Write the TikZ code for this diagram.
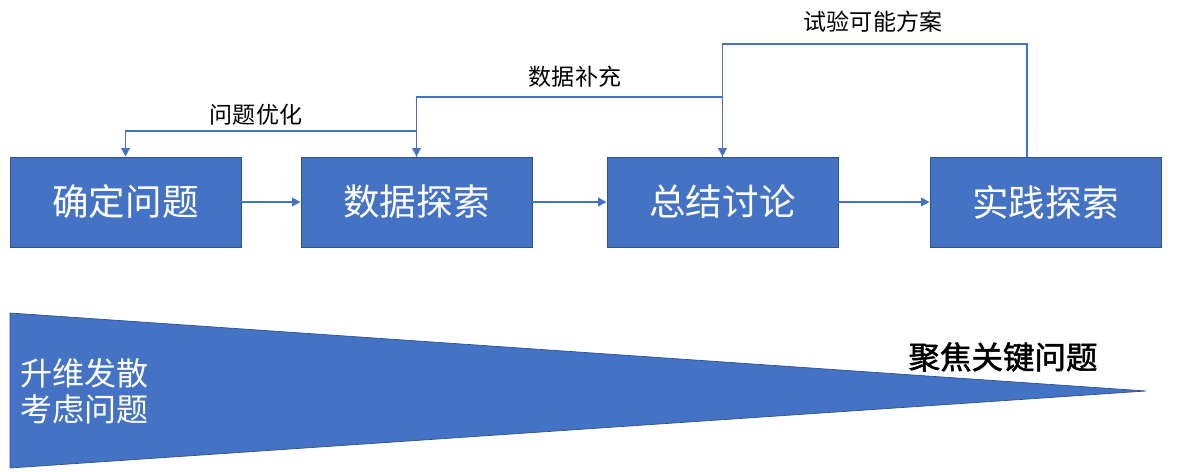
\documentclass[tikz,border=0pt]{standalone}
\usepackage{fontspec}
\setmainfont{Noto Sans CJK SC}
\newfontfamily\focusfont{Noto Sans CJK SC}[FakeBold=1.6]
\usepackage{xcolor}
\usepackage{tikz}
\usetikzlibrary{arrows.meta,positioning,calc}
\definecolor{boxblue}{RGB}{68,114,196}
\definecolor{edgeblue}{RGB}{47,82,143}

\begin{document}
\begin{tikzpicture}[
  stagebox/.style={draw=edgeblue, line width=0.6pt, fill=boxblue, text=white, minimum width=5.775cm, minimum height=2.25cm, inner sep=0pt, font=\fontsize{26}{30}\selectfont},
  flow/.style={boxblue, line width=1.4pt, -{Triangle[length=6pt,width=6pt]}},
  tag/.style={font=\fontsize{16.4}{19}\selectfont}]
  \useasboundingbox (0,0) rectangle (29.825,11.775);
  \node[stagebox] (define) at (3.1375,6.725) {确定问题};
  \node[stagebox] (explore) at (10.4125,6.725) {数据探索};
  \node[stagebox] (discuss) at (18.0625,6.725) {总结讨论};
  \node[stagebox] (practice) at (26.1375,6.725) {实践探索};
  \draw[flow] (define) -- (explore);
  \draw[flow] (explore) -- (discuss);
  \draw[flow, line width=2.1pt] (discuss) -- (practice);
  \draw[flow] (explore.north) -- ++(0,0.65) -| (define.north);
  \draw[flow] (discuss.north) -- ++(0,1.5) -| (explore.north);
  \draw[flow] ([xshift=-0.4625cm]practice.north) -- ++(0,2.825) -| (discuss.north);
  \node[tag] (refine) at (6.4,8.9) {问题优化};
  \node[tag] (supply) at (14.375,9.85) {数据补充};
  \node[tag] (trial) at (21.825,11.225) {试验可能方案};
  \coordinate (wideTop) at (0.25,3.95); \coordinate (wideBot) at (0.25,0.075); \coordinate (tip) at (28.65,2.0);
  \filldraw[fill=boxblue, draw=edgeblue, line width=0.5pt] (wideTop) -- (tip) -- (wideBot) -- cycle;
  \node[text=white, anchor=west, align=left, inner sep=0pt, font=\fontsize{22.8}{25.6}\selectfont] (diverge) at (0.5,2.0) {升维发散\\考虑问题};
  \node[font=\fontsize{22.4}{26}\selectfont\focusfont] (focus) at (25.075,2.85) {聚焦关键问题};
\end{tikzpicture}
\end{document}
